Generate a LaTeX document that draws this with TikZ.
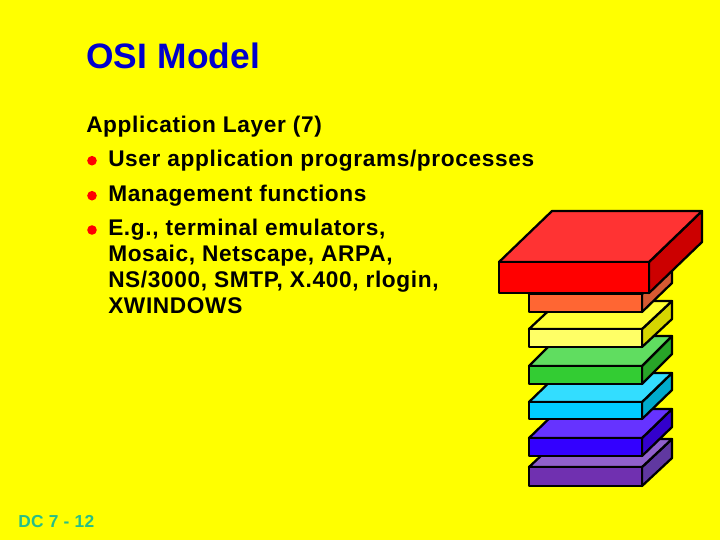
\documentclass[tikz,border=0pt]{standalone}
\usepackage{fontspec}
\setmainfont{Liberation Sans}
\newfontfamily\bodyfont[LetterSpace=2.8]{Liberation Sans}
\newfontfamily\titlefont[LetterSpace=0.5]{Liberation Sans}
\newfontfamily\footfont[LetterSpace=2]{Liberation Sans}
\definecolor{bg}{RGB}{255,255,0}
\definecolor{titleblue}{RGB}{0,0,204}
\definecolor{footteal}{RGB}{40,190,135}
\definecolor{pF}{RGB}{112,48,176}\definecolor{pT}{RGB}{144,96,204}\definecolor{pS}{RGB}{96,56,160}
\definecolor{uF}{RGB}{51,0,255}\definecolor{uT}{RGB}{102,51,255}\definecolor{uS}{RGB}{51,0,204}
\definecolor{cF}{RGB}{0,204,255}\definecolor{cT}{RGB}{51,221,255}\definecolor{cS}{RGB}{0,170,204}
\definecolor{gF}{RGB}{51,204,51}\definecolor{gT}{RGB}{96,221,96}\definecolor{gS}{RGB}{40,165,40}
\definecolor{yF}{RGB}{255,255,102}\definecolor{yT}{RGB}{255,255,51}\definecolor{yS}{RGB}{214,214,0}
\definecolor{oF}{RGB}{255,102,51}\definecolor{oT}{RGB}{255,120,70}\definecolor{oS}{RGB}{214,90,50}
\definecolor{rF}{RGB}{255,0,0}\definecolor{rT}{RGB}{255,51,51}\definecolor{rS}{RGB}{204,0,0}
\tikzset{
  x=0.75pt,y=-0.75pt,
  body/.style={anchor=base west,inner sep=0pt,font=\bodyfont\fontsize{17pt}{18pt}\selectfont\bfseries,text=black},
  bul/.style={circle,fill=red,draw=none,inner sep=0pt,minimum size=7.2pt},
  slabline/.style={draw=black,line width=1.7pt,line join=round}
}
% #1 left, #2 right, #3 depth x, #4 depth y, #5 top, #6 bottom, #7 colour prefix
\newcommand{\slab}[7]{%
  \path[slabline,fill=#7S] (#2,#5) -- (#2+#3,#5-#4) -- (#2+#3,#6-#4) -- (#2,#6) -- cycle;
  \path[slabline,fill=#7T] (#1,#5) -- (#1+#3,#5-#4) -- (#2+#3,#5-#4) -- (#2,#5) -- cycle;
  \path[slabline,fill=#7F] (#1,#5) rectangle (#2,#6);
}
\begin{document}
\begin{tikzpicture}
\useasboundingbox (0,0) rectangle (720,540);
\fill[bg] (0,0) rectangle (720,540);
\node[anchor=base west,inner sep=0pt,text=titleblue,font=\titlefont\fontsize{26.5pt}{30pt}\selectfont\bfseries] (title) at (86,68) {OSI Model};
\node[body] (head) at (86,132) {Application Layer (7)};
\node[bul] (b1) at (92,160.7) {};
\node[body] (t1) at (108,166) {User application programs/processes};
\node[bul] (b2) at (92,195.7) {};
\node[body] (t2) at (108,201) {Management functions};
\node[bul] (b3) at (92,230) {};
\node[body] (t3) at (108,235) {E.g., terminal emulators,};
\node[body] (t4) at (108,261) {Mosaic, Netscape, ARPA,};
\node[body] (t5) at (108,287) {NS/3000, SMTP, X.400, rlogin,};
\node[body] (t6) at (108,313) {XWINDOWS};
\node[anchor=base west,inner sep=0pt,text=footteal,font=\footfont\fontsize{13pt}{15pt}\selectfont\bfseries] (foot) at (18,527) {DC 7 - 12};
\slab{529}{642}{30}{28}{467}{486}{p}
\slab{529}{642}{30}{29}{438}{456}{u}
\slab{529}{642}{30}{29}{402}{419}{c}
\slab{529}{642}{30}{30}{366}{384}{g}
\slab{529}{642}{30}{28}{329}{347}{y}
\slab{529}{642}{30}{29}{294}{312}{o}
\slab{499}{649}{53}{51}{262}{293}{r}
\end{tikzpicture}
\end{document}
